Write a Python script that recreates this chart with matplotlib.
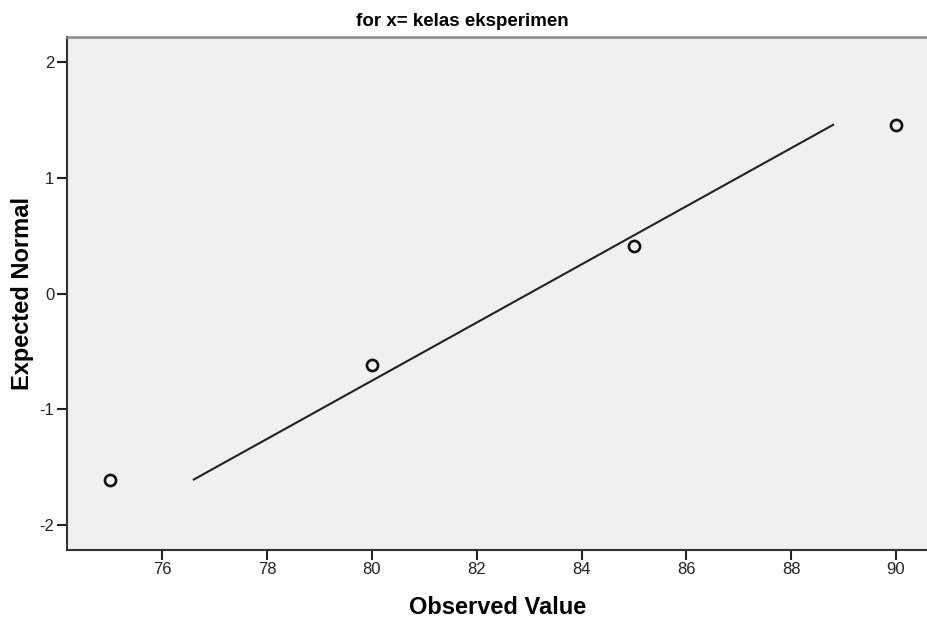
import matplotlib
matplotlib.use('Agg')
import matplotlib.pyplot as plt

plt.rcParams['font.family'] = ['Liberation Sans', 'DejaVu Sans']
plt.rcParams['axes.unicode_minus'] = False

# Observed values and their expected normal scores
observed = [75, 80, 85, 90]
expected = [-1.61, -0.62, 0.41, 1.46]

# Reference line endpoints (observed, expected)
line_x = [76.6, 88.8]
line_y = [-1.61, 1.46]

x_ticks = [76, 78, 80, 82, 84, 86, 88, 90]
y_ticks = [-2, -1, 0, 1, 2]

fig = plt.figure(figsize=(9.28, 6.22), dpi=100)
ax = fig.add_axes([67 / 928, 1 - 550 / 622, 1 - 67 / 928, (550 - 37) / 622])
ax.set_facecolor('#f0f0f0')

ax.plot(line_x, line_y, color='#222222', lw=1.5, zorder=2)
ax.plot(observed, expected, ls='none', marker='o', ms=8, mfc='none',
        mec='#111111', mew=1.9, zorder=3)

ax.set_xlim(74.18, 90.61)
ax.set_ylim(-2.22, 2.22)
ax.set_xticks(x_ticks)
ax.set_yticks(y_ticks)
ax.tick_params(length=7, width=1.5, color='#222222', pad=2, labelsize=12,
               labelcolor='#222222')

for side in ['left', 'bottom']:
    ax.spines[side].set_color('#333333')
    ax.spines[side].set_linewidth(1.5)
ax.spines['top'].set_color('#888888')
ax.spines['top'].set_linewidth(1.8)
ax.spines['right'].set_visible(False)

ax.set_xlabel('Observed Value', fontsize=17, fontweight='bold', labelpad=13)
ax.set_ylabel('Expected Normal', fontsize=17, fontweight='bold', labelpad=4)
fig.text(462.5 / 928, 1 - 21.5 / 622, 'for x= kelas eksperimen', ha='center',
         va='center', fontsize=13.5, fontweight='bold')

fig.savefig('out.png', dpi=100)
